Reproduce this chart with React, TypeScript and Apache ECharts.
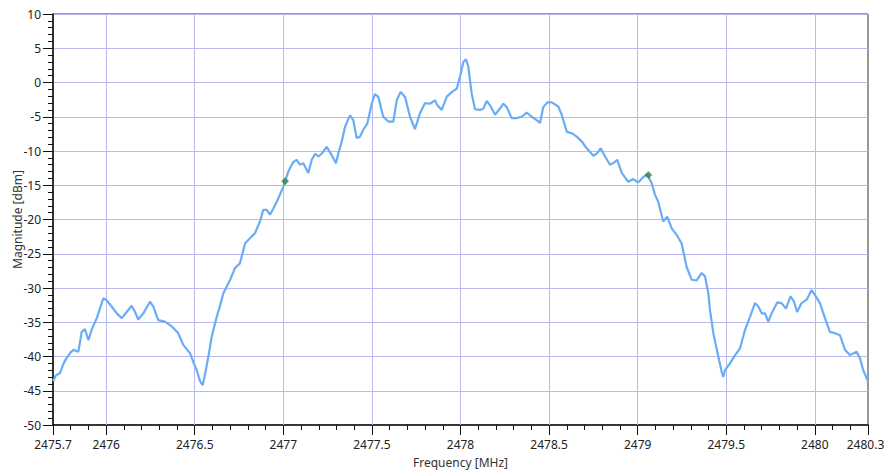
import React, { useEffect, useRef } from "react";
import * as echarts from "echarts";

const freqs = [
  2475.700, 2475.715, 2475.740, 2475.760, 2475.777, 2475.800, 2475.815, 2475.843, 2475.862, 2475.880,
  2475.900, 2475.918, 2475.947, 2475.965, 2475.984, 2476.003, 2476.031, 2476.060, 2476.088, 2476.116,
  2476.144, 2476.163, 2476.181, 2476.210, 2476.247, 2476.266, 2476.294, 2476.332, 2476.370, 2476.407,
  2476.435, 2476.473, 2476.495, 2476.511, 2476.530, 2476.545, 2476.558, 2476.577, 2476.596, 2476.624,
  2476.643, 2476.661, 2476.700, 2476.727, 2476.755, 2476.784, 2476.820, 2476.840, 2476.868, 2476.887,
  2476.906, 2476.925, 2476.944, 2476.972, 2477.000, 2477.028, 2477.056, 2477.075, 2477.094, 2477.113,
  2477.141, 2477.160, 2477.179, 2477.198, 2477.216, 2477.245, 2477.273, 2477.297, 2477.310, 2477.330,
  2477.348, 2477.376, 2477.395, 2477.414, 2477.433, 2477.451, 2477.474, 2477.499, 2477.517, 2477.536,
  2477.564, 2477.593, 2477.621, 2477.640, 2477.662, 2477.687, 2477.715, 2477.743, 2477.771, 2477.800,
  2477.828, 2477.856, 2477.869, 2477.894, 2477.922, 2477.950, 2477.979, 2477.997, 2478.016, 2478.031,
  2478.044, 2478.063, 2478.082, 2478.110, 2478.129, 2478.148, 2478.166, 2478.195, 2478.223, 2478.242,
  2478.261, 2478.289, 2478.317, 2478.345, 2478.374, 2478.402, 2478.430, 2478.449, 2478.467, 2478.490,
  2478.515, 2478.552, 2478.571, 2478.600, 2478.628, 2478.656, 2478.684, 2478.712, 2478.750, 2478.772,
  2478.791, 2478.816, 2478.844, 2478.866, 2478.885, 2478.910, 2478.947, 2478.975, 2479.003, 2479.032,
  2479.054, 2479.079, 2479.098, 2479.116, 2479.144, 2479.167, 2479.192, 2479.224, 2479.248, 2479.276,
  2479.305, 2479.333, 2479.361, 2479.380, 2479.399, 2479.408, 2479.427, 2479.455, 2479.475, 2479.483,
  2479.493, 2479.521, 2479.550, 2479.578, 2479.606, 2479.634, 2479.662, 2479.681, 2479.700, 2479.719,
  2479.737, 2479.756, 2479.788, 2479.812, 2479.837, 2479.863, 2479.882, 2479.900, 2479.925, 2479.954,
  2479.982, 2480.000, 2480.029, 2480.057, 2480.085, 2480.114, 2480.142, 2480.170, 2480.198, 2480.236,
  2480.255, 2480.273, 2480.300,
];

const magnitudes = [
  -43.6, -42.8, -42.4, -41.0, -40.2, -39.4, -39.0, -39.3, -36.4, -36.0,
  -37.6, -36.1, -34.4, -33.0, -31.5, -31.8, -32.7, -33.7, -34.4, -33.5,
  -32.6, -33.5, -34.6, -33.7, -32.0, -32.7, -34.7, -34.9, -35.6, -36.6,
  -38.3, -39.5, -41.0, -42.0, -43.6, -44.2, -42.6, -40.0, -37.1, -34.2,
  -32.6, -30.8, -28.8, -27.1, -26.4, -23.5, -22.5, -22.0, -20.3, -18.6,
  -18.6, -19.3, -18.4, -16.9, -15.2, -13.0, -11.6, -11.3, -12.0, -11.8,
  -13.2, -11.3, -10.4, -10.8, -10.4, -9.4, -10.6, -11.8, -10.4, -8.6,
  -6.5, -4.8, -5.5, -8.1, -7.9, -6.9, -6.0, -3.1, -1.7, -2.1,
  -5.0, -5.7, -5.7, -2.6, -1.4, -2.1, -5.0, -6.8, -4.5, -3.0,
  -3.1, -2.6, -3.3, -4.0, -2.1, -1.4, -0.9, 0.8, 3.0, 3.4,
  2.3, -1.6, -3.9, -4.0, -3.8, -2.7, -3.3, -4.7, -3.8, -3.1,
  -3.6, -5.2, -5.2, -5.0, -4.4, -5.0, -5.5, -5.9, -3.6, -2.9,
  -2.9, -3.5, -4.7, -7.2, -7.4, -7.9, -8.6, -9.6, -10.7, -10.3,
  -9.6, -10.8, -12.0, -11.7, -11.3, -13.2, -14.5, -14.1, -14.6, -13.8,
  -13.4, -14.7, -16.4, -17.4, -20.3, -19.6, -21.3, -22.4, -23.5, -26.9,
  -28.8, -28.9, -27.8, -28.3, -30.8, -33.2, -36.6, -40.0, -42.3, -43.0,
  -42.0, -41.0, -39.8, -38.8, -36.1, -34.2, -32.2, -32.7, -33.7, -33.7,
  -34.9, -33.7, -32.1, -32.2, -33.0, -31.2, -32.0, -33.5, -32.2, -31.7,
  -30.3, -31.0, -32.2, -34.4, -36.4, -36.6, -36.9, -39.0, -39.8, -39.3,
  -40.3, -42.0, -43.6,
];

const markerFreqs = [2477.01, 2479.06];
const markerMagnitudes = [-14.4, -13.5];

const xTickValues = [2475.7, 2476, 2476.5, 2477, 2477.5, 2478, 2478.5, 2479, 2479.5, 2480, 2480.3];
const xGridValues = [2476, 2476.5, 2477, 2477.5, 2478, 2478.5, 2479, 2479.5, 2480];

const X_MIN = 2475.7;
const X_MAX = 2480.3;
const Y_MIN = -50;
const Y_MAX = 10;

const FONT = "Noto Sans";
const GRID_COLOR = "#b9b9ee";

export default function App() {
  const ref = useRef<HTMLDivElement>(null);

  useEffect(() => {
    if (!ref.current) return;
    const chart = echarts.init(ref.current, undefined, { renderer: "svg" });
    const lineData = freqs.map((f, i) => [f, magnitudes[i]]);
    const markerData = markerFreqs.map((f, i) => [f, markerMagnitudes[i]]);

    chart.setOption({
      animation: false,
      backgroundColor: "#ffffff",
      grid: {
        left: 53,
        right: 17,
        top: 14,
        bottom: 46,
        outerBoundsMode: "none",
        containLabel: false,
        show: true,
        borderColor: "#333333",
        borderWidth: 1,
        backgroundColor: "transparent",
      },
      xAxis: [
        {
          type: "value",
          min: X_MIN,
          max: X_MAX,
          interval: 0.1,
          position: "bottom",
          axisLine: { show: true, onZero: false, lineStyle: { color: "#111111", width: 1.5 } },
          axisTick: { show: true, length: 5, lineStyle: { color: "#111111" } },
          axisLabel: { show: false },
          splitLine: { show: false },
          name: "Frequency [MHz]",
          nameLocation: "middle",
          nameGap: 31,
          nameMoveOverlap: false,
          nameTextStyle: { fontFamily: FONT, fontSize: 12, color: "#333333" },
        },
        {
          type: "value",
          min: X_MIN,
          max: X_MAX,
          position: "bottom",
          axisLine: { show: false, onZero: false },
          axisTick: { show: true, length: 10, customValues: xTickValues, lineStyle: { color: "#111111" } },
          axisLabel: {
            show: true,
            customValues: xTickValues,
            margin: 13,
            fontFamily: FONT,
            fontSize: 12,
            color: "#222222",
            formatter: (v: number) => {
              const s = String(Math.round(v * 10) / 10);
              return Math.abs(v - X_MAX) < 1e-6 ? "{e|" + s + "}" : s;
            },
            rich: {
              e: { fontFamily: FONT, fontSize: 12, color: "#222222", padding: [0, 5, 0, 0] },
            },
          },
          splitLine: { show: false },
        },
      ],
      yAxis: {
        type: "value",
        min: Y_MIN,
        max: Y_MAX,
        interval: 5,
        axisLine: { show: true, onZero: false, lineStyle: { color: "#111111", width: 1.5 } },
        axisTick: { show: true, length: 10, lineStyle: { color: "#111111" } },
        minorTick: { show: true, splitNumber: 5, length: 5, lineStyle: { color: "#111111" } },
        axisLabel: { margin: 12, fontFamily: FONT, fontSize: 12, color: "#222222" },
        splitLine: { show: true, lineStyle: { color: GRID_COLOR, width: 1 } },
        name: "Magnitude [dBm]",
        nameLocation: "middle",
        nameGap: 30,
        nameMoveOverlap: false,
        nameTextStyle: { fontFamily: FONT, fontSize: 12, color: "#333333" },
      },
      series: [
        {
          type: "line",
          xAxisIndex: 0,
          data: lineData,
          showSymbol: false,
          symbol: "none",
          lineStyle: { color: "#6aacf6", width: 2.2 },
          z: 3,
          markLine: {
            silent: true,
            symbol: "none",
            label: { show: false },
            lineStyle: { color: GRID_COLOR, width: 1, type: "solid" },
            z: 1,
            data: xGridValues.map((v) => ({ xAxis: v })),
          },
        },
        {
          type: "scatter",
          xAxisIndex: 0,
          data: markerData,
          symbol: "diamond",
          symbolSize: 7,
          itemStyle: { color: "#2e8b3c", borderColor: "#1e6b2a", borderWidth: 0.5 },
          z: 5,
        },
      ],
    });

    return () => {
      chart.dispose();
    };
  }, []);

  return (
    <div
      ref={ref}
      style={{ position: "fixed", left: 0, top: 0, width: 885, height: 471 }}
    />
  );
}
